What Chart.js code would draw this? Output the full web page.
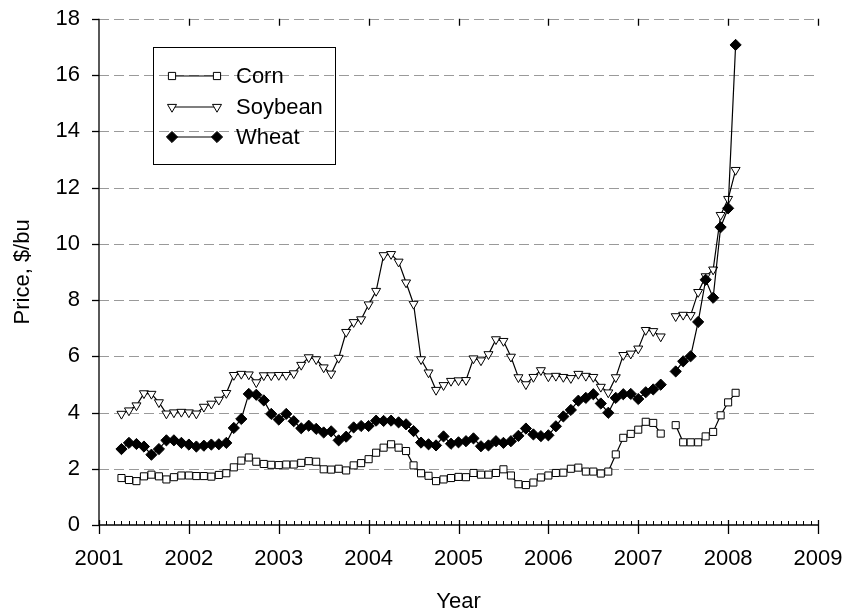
<!DOCTYPE html>
<html>
<head>
<meta charset="utf-8">
<script src="https://cdn.jsdelivr.net/npm/chart.js@4.4.1/dist/chart.umd.min.js"></script>
<style>
  html, body { margin: 0; padding: 0; background: #ffffff; }
  #wrap { width: 849px; height: 613px; }
</style>
</head>
<body>
<div id="wrap"><canvas id="c" width="849" height="613"></canvas></div>
<script>
// ---- Data (monthly prices, $/bu); first observation is 2001 + 3/12, null = missing month ----
const startYear = 2001;
const startMonthOffset = 3;

const corn = [1.67,1.60,1.56,1.73,1.79,1.73,1.62,1.70,1.76,1.76,
  1.74,1.74,1.72,1.78,1.84,2.05,2.29,2.40,2.25,2.17,
  2.14,2.13,2.15,2.15,2.21,2.27,2.25,1.98,1.97,2.00,
  1.94,2.12,2.20,2.34,2.57,2.75,2.87,2.75,2.63,2.12,
  1.84,1.75,1.56,1.62,1.67,1.71,1.70,1.85,1.79,1.79,
  1.85,1.98,1.76,1.45,1.42,1.51,1.69,1.76,1.85,1.86,
  2.00,2.04,1.90,1.90,1.83,1.90,2.51,3.10,3.24,3.39,
  3.67,3.63,3.25,null,3.55,2.94,2.94,2.94,3.15,3.31,
  3.90,4.36,4.70];

const soybean = [3.95,4.07,4.25,4.68,4.66,4.36,3.96,4.00,4.02,4.00,
  3.96,4.20,4.31,4.45,4.69,5.33,5.37,5.35,5.07,5.32,
  5.32,5.33,5.33,5.39,5.69,5.96,5.89,5.60,5.38,5.94,
  6.86,7.21,7.31,7.84,8.32,9.59,9.63,9.36,8.62,7.86,
  5.89,5.42,4.80,4.97,5.12,5.14,5.15,5.92,5.85,6.07,
  6.60,6.54,5.98,5.25,5.00,5.26,5.50,5.28,5.30,5.26,
  5.22,5.37,5.30,5.26,4.91,4.71,5.25,6.04,6.09,6.27,
  6.93,6.89,6.70,null,7.42,7.47,7.46,8.28,8.84,9.08,
  11.02,11.59,12.62];

const wheat = [2.70,2.92,2.88,2.79,2.50,2.70,3.01,3.01,2.92,2.86,
  2.79,2.82,2.86,2.87,2.92,3.45,3.77,4.66,4.63,4.43,
  3.95,3.75,3.95,3.69,3.44,3.53,3.42,3.29,3.33,3.01,
  3.14,3.47,3.52,3.52,3.71,3.70,3.71,3.65,3.58,3.34,
  2.93,2.87,2.83,3.15,2.89,2.94,2.98,3.08,2.80,2.83,
  2.98,2.92,2.98,3.17,3.43,3.22,3.16,3.19,3.51,3.86,
  4.09,4.42,4.52,4.65,4.32,3.99,4.52,4.65,4.66,4.48,
  4.72,4.82,4.99,null,5.46,5.82,6.00,7.22,8.72,8.08,
  10.59,11.26,17.07];

const seriesNames = ['Corn', 'Soybean', 'Wheat'];
const xTickYears = [2001, 2002, 2003, 2004, 2005, 2006, 2007, 2008, 2009];
const yTickValues = [0, 2, 4, 6, 8, 10, 12, 14, 16, 18];
const xTitle = 'Year';
const yTitle = 'Price, $/bu';

// ---- Build library data ----
const monthX = corn.map((_, i) => startYear + (startMonthOffset + i) / 12);
const toPoints = arr => arr.map((v, i) => ({ x: monthX[i], y: v }));

const FONT = '"Liberation Sans", Arial, Helvetica, sans-serif';

const styles = [
  { pointStyle: 'rect', rotation: 0, radius: 5, bg: '#ffffff' },
  { pointStyle: 'triangle', rotation: 180, radius: 5.2, bg: '#ffffff' },
  { pointStyle: 'rectRot', rotation: 0, radius: 5.6, bg: '#000000' }
];

function drawMarker(ctx, kind, x, y) {
  ctx.save();
  ctx.lineWidth = 1;
  ctx.strokeStyle = '#000';
  ctx.beginPath();
  if (kind === 0) {
    const s = 3.6;
    ctx.rect(x - s, y - s, 2 * s, 2 * s);
    ctx.fillStyle = '#fff';
  } else if (kind === 1) {
    const r = 5.2;
    ctx.moveTo(x, y + r);
    ctx.lineTo(x + r * 0.866, y - r / 2);
    ctx.lineTo(x - r * 0.866, y - r / 2);
    ctx.closePath();
    ctx.fillStyle = '#fff';
  } else {
    const r = 5.6;
    ctx.moveTo(x, y - r);
    ctx.lineTo(x + r, y);
    ctx.lineTo(x, y + r);
    ctx.lineTo(x - r, y);
    ctx.closePath();
    ctx.fillStyle = '#000';
  }
  ctx.fill();
  ctx.stroke();
  ctx.restore();
}

const framePlugin = {
  id: 'frame',
  beforeDatasetsDraw(chart) {
    const { ctx, chartArea: a, scales: { y } } = chart;
    ctx.save();
    ctx.strokeStyle = '#9a9a9a';
    ctx.lineWidth = 1;
    ctx.setLineDash([10, 5]);
    yTickValues.forEach(v => {
      if (v <= 0) return;
      const py = Math.round(y.getPixelForValue(v)) + 0.5;
      ctx.beginPath();
      ctx.moveTo(a.left, py);
      ctx.lineTo(a.right, py);
      ctx.stroke();
    });
    ctx.restore();
  },
  afterDraw(chart) {
    const { ctx, chartArea: a, scales: { x, y } } = chart;
    ctx.save();
    ctx.strokeStyle = '#000';
    ctx.lineWidth = 1.3;
    // axes lines
    ctx.beginPath();
    ctx.moveTo(a.left, a.top);
    ctx.lineTo(a.left, a.bottom);
    ctx.lineTo(a.right, a.bottom);
    ctx.stroke();
    // y major ticks (outward)
    yTickValues.forEach(v => {
      const py = Math.round(y.getPixelForValue(v)) + 0.5;
      ctx.beginPath();
      ctx.moveTo(a.left - 7, py);
      ctx.lineTo(a.left, py);
      ctx.stroke();
    });
    // x minor ticks (monthly, inward)
    ctx.lineWidth = 1;
    for (let yr = xTickYears[0]; yr < xTickYears[xTickYears.length - 1]; yr++) {
      for (let m = 1; m < 12; m++) {
        const px = Math.round(x.getPixelForValue(yr + m / 12)) + 0.5;
        ctx.beginPath();
        ctx.moveTo(px, a.bottom);
        ctx.lineTo(px, a.bottom - 4);
        ctx.stroke();
      }
    }
    // x major ticks (crossing) and small top ticks
    ctx.lineWidth = 1.3;
    xTickYears.forEach(v => {
      const px = Math.round(x.getPixelForValue(v)) + 0.5;
      ctx.beginPath();
      ctx.moveTo(px, a.bottom - 5);
      ctx.lineTo(px, a.bottom + 9);
      ctx.stroke();
      if (v > xTickYears[0]) {
        ctx.beginPath();
        ctx.moveTo(px, a.top);
        ctx.lineTo(px, a.top + 7);
        ctx.stroke();
      }
    });
    // axis titles
    ctx.fillStyle = '#000';
    ctx.font = '22px ' + FONT;
    ctx.textAlign = 'center';
    ctx.textBaseline = 'middle';
    ctx.fillText(xTitle, (a.left + a.right) / 2, 602);
    ctx.save();
    ctx.translate(23, (a.top + a.bottom) / 2);
    ctx.rotate(-Math.PI / 2);
    ctx.fillText(yTitle, 0, 0);
    ctx.restore();
    // legend
    const lx = 153.5, ly = 47.5, lw = 182, lh = 117;
    ctx.lineWidth = 1;
    ctx.strokeStyle = '#000';
    ctx.strokeRect(lx, ly, lw, lh);
    const rows = [76, 107, 137];
    ctx.textAlign = 'left';
    ctx.font = '22px ' + FONT;
    seriesNames.forEach((name, i) => {
      const ry = rows[i];
      ctx.beginPath();
      ctx.lineWidth = 1.2;
      ctx.moveTo(172, ry);
      ctx.lineTo(217, ry);
      ctx.stroke();
      drawMarker(ctx, i, 172, ry);
      drawMarker(ctx, i, 217, ry);
      ctx.fillStyle = '#000';
      ctx.fillText(name, 236, ry + 1);
    });
    ctx.restore();
  }
};

const datasets = [corn, soybean, wheat].map((arr, i) => ({
  label: seriesNames[i],
  data: toPoints(arr),
  borderColor: '#000000',
  borderWidth: 1.2,
  backgroundColor: styles[i].bg,
  pointStyle: styles[i].pointStyle,
  pointRotation: styles[i].rotation,
  pointRadius: styles[i].radius,
  pointHoverRadius: styles[i].radius,
  pointBorderColor: '#000000',
  pointBackgroundColor: styles[i].bg,
  pointBorderWidth: 1,
  tension: 0,
  spanGaps: false,
  fill: false,
  order: 2 - i
}));

new Chart(document.getElementById('c'), {
  type: 'line',
  data: { datasets },
  options: {
    responsive: false,
    animation: false,
    devicePixelRatio: 1,
    layout: { padding: { top: 18.75, right: 31, left: 0, bottom: 0 } },
    plugins: { legend: { display: false }, tooltip: { enabled: false } },
    scales: {
      x: {
        type: 'linear',
        min: 2001, max: 2009,
        afterBuildTicks: s => { s.ticks = xTickYears.map(v => ({ value: v })); },
        afterFit: s => { s.height = 88; s.paddingLeft = 0; s.paddingRight = 0; },
        grid: { display: false, drawTicks: false },
        border: { display: false },
        ticks: { color: '#000', padding: 21, font: { family: FONT, size: 22 }, callback: v => String(v), maxRotation: 0, autoSkip: false }
      },
      y: {
        type: 'linear',
        min: 0, max: 18,
        afterBuildTicks: s => { s.ticks = yTickValues.map(v => ({ value: v })); },
        afterFit: s => { s.width = 99; s.paddingTop = 0; s.paddingBottom = 0; },
        grid: { display: false, drawTicks: false },
        border: { display: false },
        ticks: { color: '#000', padding: 19, font: { family: FONT, size: 22 }, callback: v => String(v) }
      }
    }
  },
  plugins: [framePlugin]
});
</script>
</body>
</html>
